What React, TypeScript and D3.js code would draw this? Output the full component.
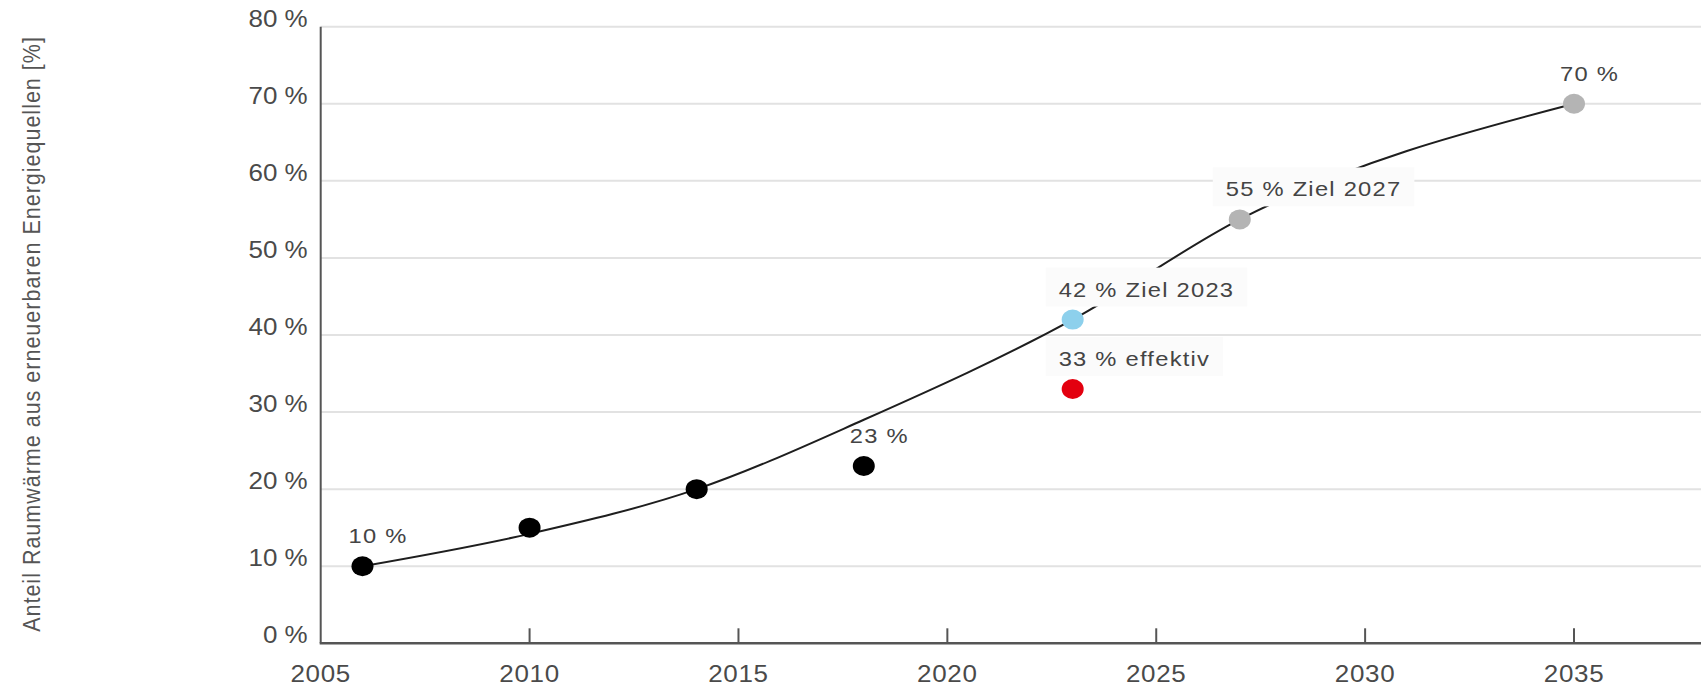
import React, { useEffect, useRef } from "react";
import * as d3 from "d3";

// ---- data ----
const xTickYears = [2005, 2010, 2015, 2020, 2025, 2030, 2035];
const yTickValues = [0, 10, 20, 30, 40, 50, 60, 70, 80];

const pointYears = [2006, 2010, 2014, 2018, 2023, 2023, 2027, 2035];
const pointValues = [10, 15, 20, 23, 42, 33, 55, 70];
const pointKinds = ["ist", "ist", "ist", "ist", "ziel", "effektiv", "prognose", "prognose"];
const pointLabels = ["10 %", "", "", "23 %", "42 % Ziel 2023", "33 % effektiv", "55 % Ziel 2027", "70 %"];
const labelBoxed = [false, false, false, false, true, true, true, false];

const trendYears = [2006, 2010, 2014, 2018, 2023, 2027, 2035];
const trendValues = [10, 14.2, 20, 29, 42, 55, 70];

const yTitle = "Anteil Raumwärme aus erneuerbaren Energiequellen [%]";

const kindColor: Record<string, string> = {
  ist: "#000000",
  ziel: "#8dd0ec",
  effektiv: "#e3000f",
  prognose: "#b4b4b4",
};

const W = 1701;
const H = 688;
const FONT = "'Liberation Sans', Arial, Helvetica, sans-serif";
const SX = 1.13; // horizontal glyph stretch seen in the reference

export default function App() {
  const ref = useRef<SVGSVGElement | null>(null);

  useEffect(() => {
    const svg = d3.select(ref.current);
    svg.selectAll("*").remove();

    const x = d3.scaleLinear().domain([2005, 2035]).range([320.7, 1574]);
    const y = d3.scaleLinear().domain([0, 80]).range([643.3, 26.7]);

    // gridlines
    svg
      .append("g")
      .selectAll("line")
      .data(yTickValues.filter((v) => v > 0))
      .join("line")
      .attr("x1", x(2005))
      .attr("x2", W)
      .attr("y1", (d) => y(d))
      .attr("y2", (d) => y(d))
      .attr("stroke", "#e2e2e2")
      .attr("stroke-width", 2);

    // y tick labels
    svg
      .append("g")
      .selectAll("text")
      .data(yTickValues)
      .join("text")
      .attr("transform", (d) => `translate(${x(2005) - 13},${y(d)}) scale(${SX},1)`)
      .attr("text-anchor", "end")
      .attr("font-family", FONT)
      .attr("font-size", 23)
      .attr("fill", "#4a4a4a")
      .text((d) => `${d} %`);

    // x tick labels
    svg
      .append("g")
      .selectAll("text")
      .data(xTickYears)
      .join("text")
      .attr("transform", (d) => `translate(${x(d)},682) scale(${SX},1)`)
      .attr("text-anchor", "middle")
      .attr("font-family", FONT)
      .attr("font-size", 23)
      .attr("letter-spacing", 0.6)
      .attr("fill", "#4a4a4a")
      .text((d) => `${d}`);

    // x ticks
    svg
      .append("g")
      .selectAll("line")
      .data(xTickYears.filter((d) => d > 2005))
      .join("line")
      .attr("x1", (d) => x(d))
      .attr("x2", (d) => x(d))
      .attr("y1", y(0) - 15)
      .attr("y2", y(0))
      .attr("stroke", "#555")
      .attr("stroke-width", 2);

    // axes
    svg
      .append("line")
      .attr("x1", x(2005))
      .attr("x2", x(2005))
      .attr("y1", y(80))
      .attr("y2", y(0))
      .attr("stroke", "#555")
      .attr("stroke-width", 2);
    svg
      .append("line")
      .attr("x1", x(2005) - 1)
      .attr("x2", W)
      .attr("y1", y(0))
      .attr("y2", y(0))
      .attr("stroke", "#555")
      .attr("stroke-width", 2.5);

    // y title
    svg
      .append("text")
      .attr("transform", `translate(40,334) scale(${SX},1) rotate(-90)`)
      .attr("text-anchor", "middle")
      .attr("font-family", FONT)
      .attr("font-size", 21.5)
      .attr("letter-spacing", 1)
      .attr("fill", "#555")
      .text(yTitle);

    // trend curve
    const line = d3
      .line<number>()
      .x((_, i) => x(trendYears[i]))
      .y((d) => y(d))
      .curve(d3.curveMonotoneX);
    svg
      .append("path")
      .attr("d", line(trendValues) || "")
      .attr("fill", "none")
      .attr("stroke", "#1e1e1e")
      .attr("stroke-width", 2);

    // labels (boxed ones cover the curve)
    const labelG = svg.append("g");
    pointLabels.forEach((lab, i) => {
      if (!lab) return;
      const lx = x(pointYears[i]) - 14;
      const ly = y(pointValues[i]) - 23;
      const g = labelG.append("g");
      const rect = g.append("rect");
      const t = g
        .append("text")
        .attr("transform", `translate(${lx},${ly}) scale(${SX},1)`)
        .attr("font-family", FONT)
        .attr("font-size", 21)
        .attr("letter-spacing", 1.1)
        .attr("fill", "#444")
        .text(lab);
      if (labelBoxed[i]) {
        const bb = (t.node() as SVGTextElement).getBBox();
        const w = bb.width * SX;
        rect
          .attr("x", lx - 13)
          .attr("y", ly - 29)
          .attr("width", w + 26)
          .attr("height", 39)
          .attr("fill", "#fbfbfb");
      } else {
        rect.remove();
      }
    });

    // points
    svg
      .append("g")
      .selectAll("ellipse")
      .data(pointValues)
      .join("ellipse")
      .attr("cx", (_, i) => x(pointYears[i]))
      .attr("cy", (d) => y(d))
      .attr("rx", 11)
      .attr("ry", 10)
      .attr("fill", (_, i) => kindColor[pointKinds[i]]);
  }, []);

  return (
    <svg
      ref={ref}
      width={W}
      height={H}
      style={{ position: "absolute", left: 0, top: 0, background: "#fff" }}
    />
  );
}
